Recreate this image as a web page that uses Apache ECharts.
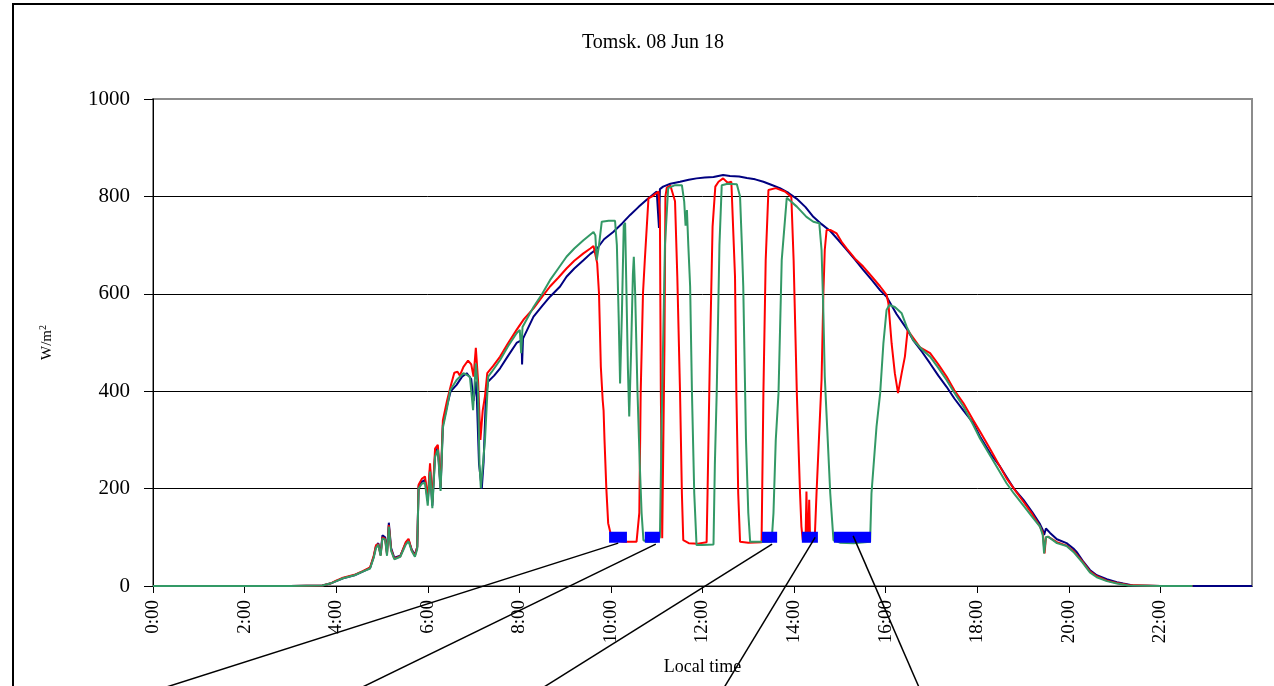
<!DOCTYPE html>
<html>
<head>
<meta charset="utf-8">
<script src="https://cdn.jsdelivr.net/npm/echarts@6/dist/echarts.min.js"></script>
<style>
  html, body { margin: 0; padding: 0; background: #fff; }
  #chart { width: 1274px; height: 686px; }
</style>
</head>
<body>
<div id="chart"></div>
<script>
// Tomsk, 8 June 2018 — solar irradiance (W/m²) against local time, in hours.

// Clear-sky level (navy)
const clearSky = [
  [0,0],[1,0],[2,0],[3,0],[3.7,1],[3.87,5],[4.0,10],[4.15,16],[4.4,22],[4.59,30],[4.74,37],
  [4.82,60],[4.87,82],[4.92,88],[4.97,65],[5.01,104],[5.07,100],[5.11,68],[5.15,130],[5.2,78],
  [5.27,58],[5.4,62],[5.52,88],[5.58,95],[5.65,75],[5.72,64],[5.77,80],[5.80,205],[5.87,214],
  [5.94,218],[6.0,175],[6.05,240],[6.1,165],[6.16,270],[6.22,285],[6.28,200],[6.33,330],
  [6.42,370],[6.5,400],[6.63,413],[6.75,430],[6.85,437],[6.95,425],[7.0,380],[7.06,420],
  [7.12,250],[7.18,200],[7.22,255],[7.27,390],[7.32,420],[7.45,432],[7.58,447],[7.75,472],
  [7.94,499],[8.05,505],[8.06,455],[8.08,508],[8.31,553],[8.5,575],[8.67,594],[8.89,615],
  [9.03,635],[9.2,652],[9.4,669],[9.55,682],[9.69,692],[9.85,712],[10.05,727],[10.25,745],
  [10.42,762],[10.6,778],[10.78,793],[11.0,810],[11.04,812],[11.05,735],[11.07,815],[11.14,820],
  [11.3,826],[11.51,830],[11.7,834],[11.87,837],[12.05,839],[12.24,840],[12.45,844],[12.6,842],
  [12.8,841],[12.97,838],[13.15,835],[13.33,830],[13.5,824],[13.69,817],[13.88,807],[14.06,795],
  [14.25,778],[14.42,758],[14.6,743],[14.79,729],[14.97,710],[15.15,690],[15.33,670],[15.51,649],
  [15.7,628],[15.88,607],[16.02,594],[16.24,558],[16.46,528],[16.6,505],[16.8,480],[16.97,457],
  [17.15,432],[17.33,409],[17.5,385],[17.7,360],[17.91,335],[18.06,307],[18.3,270],[18.5,245],
  [18.64,224],[18.8,200],[19.01,177],[19.2,152],[19.37,127],[19.43,115],[19.46,105],[19.5,118],
  [19.59,109],[19.74,96],[19.95,88],[20.1,77],[20.17,70],[20.3,52],[20.46,33],[20.61,22],
  [20.83,14],[21.05,8],[21.19,5],[21.4,1],[22,0],[23,0],[24,0]
];

// Measured irradiance, first sensor (red)
const sensorRed = [
  [0,0],[2,0],[3,0],[3.7,1],[3.87,5],[4.0,11],[4.15,17],[4.4,23],[4.59,31],[4.74,38],[4.82,62],
  [4.87,84],[4.92,86],[4.97,63],[5.01,100],[5.07,97],[5.11,65],[5.15,125],[5.2,75],[5.27,56],
  [5.4,61],[5.52,90],[5.58,97],[5.65,73],[5.72,62],[5.77,80],[5.80,208],[5.87,220],[5.94,225],
  [6.0,180],[6.05,252],[6.1,172],[6.16,282],[6.22,290],[6.28,205],[6.33,340],[6.42,380],
  [6.5,410],[6.58,438],[6.65,440],[6.7,432],[6.78,450],[6.88,463],[6.95,455],[7.0,430],
  [7.05,489],[7.1,420],[7.15,300],[7.2,360],[7.25,390],[7.3,437],[7.43,452],[7.58,471],
  [7.75,498],[7.94,526],[8.1,548],[8.31,570],[8.5,594],[8.67,615],[8.85,633],[9.03,652],
  [9.2,668],[9.40,683],[9.55,693],[9.62,698],[9.7,663],[9.74,600],[9.78,450],[9.82,382],
  [9.84,360],[9.86,300],[9.9,200],[9.94,129],[10.0,105],[10.12,93],[10.3,91],[10.56,91],
  [10.62,150],[10.65,396],[10.7,600],[10.74,669],[10.82,796],[10.9,800],[11.04,810],[11.07,760],
  [11.09,400],[11.12,98],[11.15,97],[11.17,500],[11.19,800],[11.22,818],[11.3,822],[11.40,790],
  [11.45,635],[11.51,396],[11.55,190],[11.58,94],[11.7,88],[11.9,87],[12.09,90],[12.11,190],
  [12.16,464],[12.22,738],[12.28,820],[12.35,830],[12.45,837],[12.55,828],[12.63,830],[12.71,635],
  [12.74,396],[12.78,190],[12.82,91],[13.0,89],[13.29,90],[13.33,396],[13.38,669],[13.44,813],
  [13.6,817],[13.8,810],[13.94,799],[13.99,669],[14.06,396],[14.13,190],[14.16,122],[14.19,94],
  [14.25,92],[14.27,194],[14.29,94],[14.31,100],[14.33,177],[14.35,94],[14.45,95],[14.49,190],
  [14.6,423],[14.64,601],[14.67,690],[14.71,731],[14.79,731],[14.93,724],[15.05,705],[15.15,693],
  [15.33,672],[15.51,656],[15.7,635],[15.88,615],[16.02,598],[16.06,580],[16.13,498],[16.2,437],
  [16.27,396],[16.35,437],[16.42,471],[16.48,526],[16.53,519],[16.75,490],[16.97,478],[17.15,455],
  [17.33,430],[17.5,402],[17.7,375],[17.91,341],[18.06,317],[18.3,278],[18.64,221],[18.8,200],
  [19.01,173],[19.2,148],[19.37,122],[19.43,110],[19.47,67],[19.5,100],[19.55,101],[19.74,90],
  [19.95,83],[20.1,72],[20.3,50],[20.46,30],[20.61,20],[20.83,11],[21.05,6],[21.3,2],[22,0],[22.7,0]
];

// Measured irradiance, second sensor (green)
const sensorGreen = [
  [0,0],[2,0],[3,0],[3.7,1],[3.87,5],[4.0,10],[4.15,16],[4.4,22],[4.59,30],[4.74,36],[4.82,58],
  [4.87,78],[4.92,85],[4.97,62],[5.01,98],[5.07,95],[5.11,62],[5.15,122],[5.2,72],[5.27,55],
  [5.4,60],[5.52,85],[5.58,92],[5.65,72],[5.72,60],[5.77,76],[5.80,200],[5.87,210],[5.94,212],
  [6.0,165],[6.05,235],[6.1,160],[6.16,265],[6.22,280],[6.28,195],[6.33,325],[6.42,365],
  [6.49,402],[6.63,423],[6.78,437],[6.92,430],[6.99,361],[7.05,457],[7.1,396],[7.13,250],
  [7.16,201],[7.2,205],[7.25,300],[7.32,430],[7.4,440],[7.58,464],[7.75,492],[7.94,519],
  [8.01,526],[8.04,478],[8.07,532],[8.31,573],[8.5,600],[8.67,628],[8.85,652],[9.03,676],
  [9.2,693],[9.4,710],[9.62,727],[9.66,720],[9.69,669],[9.74,700],[9.80,748],[9.95,750],
  [10.09,750],[10.13,700],[10.17,550],[10.2,416],[10.24,560],[10.28,740],[10.31,746],[10.34,600],
  [10.37,450],[10.4,348],[10.44,480],[10.48,640],[10.5,676],[10.53,600],[10.58,400],[10.63,250],
  [10.67,150],[10.71,94],[10.8,91],[11.0,91],[11.07,100],[11.12,400],[11.18,700],[11.25,817],
  [11.4,823],[11.55,823],[11.6,790],[11.63,740],[11.66,772],[11.69,700],[11.73,615],[11.77,396],
  [11.82,190],[11.87,84],[12.0,84],[12.24,85],[12.27,250],[12.31,396],[12.37,700],[12.42,823],
  [12.55,826],[12.75,825],[12.82,800],[12.86,700],[12.89,615],[12.95,300],[13.0,150],[13.04,91],
  [13.2,91],[13.51,91],[13.55,150],[13.6,300],[13.66,396],[13.73,669],[13.84,797],[14.06,779],
  [14.27,758],[14.42,748],[14.55,745],[14.6,690],[14.64,560],[14.67,430],[14.79,190],[14.86,94],
  [15.0,89],[15.3,88],[15.66,91],[15.69,190],[15.80,327],[15.88,396],[15.95,498],[16.02,567],
  [16.08,577],[16.2,573],[16.35,560],[16.46,532],[16.6,505],[16.8,485],[16.97,471],[17.15,448],
  [17.33,423],[17.5,397],[17.7,368],[17.91,331],[18.06,303],[18.3,265],[18.64,211],[18.8,190],
  [19.01,165],[19.2,142],[19.37,122],[19.43,105],[19.46,67],[19.5,100],[19.55,101],[19.74,88],
  [19.95,82],[20.1,70],[20.3,48],[20.46,28],[20.61,18],[20.83,10],[21.05,5],[21.3,1],[22,0],[22.7,0]
];

// Cloud-cover intervals marked on the chart (start, end hour) and their level
const cloudGaps = [[9.96, 10.35], [10.74, 11.07], [13.30, 13.63], [14.17, 14.52], [14.87, 15.68]];
const gapLevel = 100;

// Callout leaders running from each interval down past the axis
const leaderFrom = [[10.16, 88], [10.98, 86], [13.52, 86], [14.46, 100], [15.29, 103]];
const leaderTo = [[0.04, -215], [4.41, -215], [8.41, -215], [12.43, -215], [16.76, -215]];

// Hour ticks shown on the time axis
const hourTicks = [0, 2, 4, 6, 8, 10, 12, 14, 16, 18, 20, 22];

const serif = '"Liberation Serif", "Times New Roman", Times, serif';

const lineSeries = (data, color) => ({
  type: 'line',
  data,
  showSymbol: false,
  silent: true,
  lineStyle: { color, width: 2 },
  z: 3
});

const series = [
  lineSeries(clearSky, '#000080'),
  lineSeries(sensorRed, '#ff0000'),
  lineSeries(sensorGreen, '#339966')
];

cloudGaps.forEach(([a, b]) => {
  series.push({
    type: 'line',
    data: [[a, gapLevel], [b, gapLevel]],
    showSymbol: false,
    silent: true,
    lineStyle: { color: '#0000ff', width: 11, cap: 'butt' },
    z: 4
  });
});

leaderFrom.forEach((p, i) => {
  series.push({
    type: 'line',
    data: [p, leaderTo[i]],
    showSymbol: false,
    silent: true,
    clip: false,
    lineStyle: { color: '#000', width: 1.5 },
    z: 5
  });
});

const chart = echarts.init(document.getElementById('chart'), null, { renderer: 'canvas' });

chart.setOption({
  animation: false,
  backgroundColor: '#fff',
  title: {
    text: 'Tomsk. 08 Jun 18',
    left: 648,
    top: 28,
    textAlign: 'center',
    textStyle: { fontFamily: serif, fontSize: 20, fontWeight: 'normal', color: '#000' }
  },
  graphic: [{
    type: 'rect',
    silent: true,
    z: -1,
    shape: { x: 13, y: 4, width: 1300, height: 720 },
    style: { fill: 'none', stroke: '#000', lineWidth: 2 }
  }],
  grid: {
    left: 153, right: 22, top: 99, bottom: 100,
    show: true, borderColor: '#8c8c8c', borderWidth: 2, backgroundColor: 'transparent'
  },
  xAxis: {
    type: 'value',
    min: 0, max: 24, interval: 2,
    name: 'Local time',
    nameLocation: 'middle',
    nameGap: 72,
    nameTextStyle: { fontFamily: serif, fontSize: 18, color: '#000' },
    axisLine: { show: true, onZero: false, lineStyle: { color: '#000', width: 1 } },
    axisTick: { show: true, length: 7, customValues: hourTicks, lineStyle: { color: '#000' } },
    axisLabel: {
      rotate: 90, margin: 14, customValues: hourTicks,
      formatter: v => v + ':00',
      fontFamily: serif, fontSize: 19, color: '#000'
    },
    splitLine: { show: false }
  },
  yAxis: {
    type: 'value',
    min: 0, max: 1000, interval: 200,
    name: '{b|W/m}{s|2}',
    nameLocation: 'middle',
    nameGap: 97,
    nameTextStyle: {
      color: '#000',
      rich: {
        b: { fontFamily: serif, fontSize: 15, color: '#000', lineHeight: 18 },
        s: { fontFamily: serif, fontSize: 10, color: '#000', verticalAlign: 'top', lineHeight: 18 }
      }
    },
    axisLine: { show: true, lineStyle: { color: '#000', width: 1 } },
    axisTick: { show: true, length: 9, lineStyle: { color: '#000' } },
    axisLabel: {
      margin: 23, formatter: v => String(v),
      fontFamily: serif, fontSize: 21, color: '#000'
    },
    splitLine: {
      show: true,
      lineStyle: { color: ['#000', '#000', '#000', '#000', '#000', '#8c8c8c'], width: 1 }
    }
  },
  series
});
</script>
</body>
</html>
